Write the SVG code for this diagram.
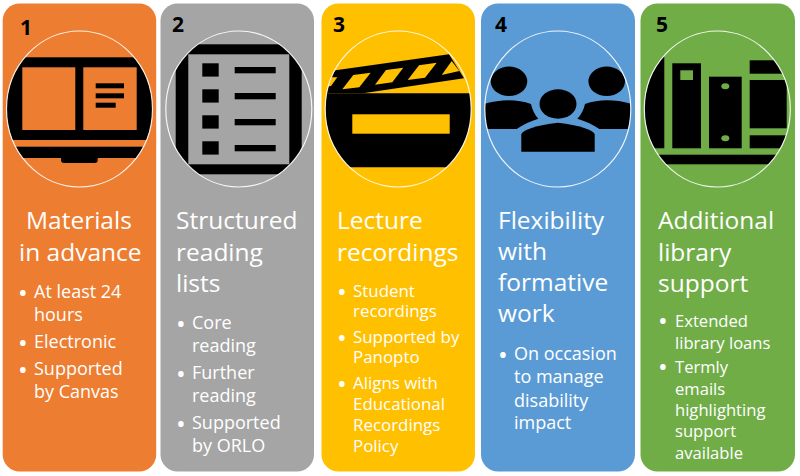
<svg xmlns="http://www.w3.org/2000/svg" width="800" height="476" viewBox="0 0 800 476">
<style>
text{font-family:"Open Sans","Noto Sans",sans-serif;fill:#fff}
.n{font-size:21px;font-weight:700;fill:#000}
.h{font-size:24.500px}
.b{font-size:18px}
.b3{font-size:16.900px}
.b5{font-size:16.600px}
.d{font-size:26px}
.ring{fill:none;stroke:#fff;stroke-width:1.200;opacity:.9}
</style>
<defs>
<clipPath id="c1"><ellipse cx="79.500" cy="109" rx="73" ry="78"/></clipPath>
<clipPath id="c2"><ellipse cx="238.800" cy="109" rx="73" ry="78"/></clipPath>
<clipPath id="c3"><ellipse cx="398.200" cy="109" rx="73" ry="78"/></clipPath>
<clipPath id="c4"><ellipse cx="557.800" cy="109" rx="73" ry="78"/></clipPath>
<clipPath id="c5"><ellipse cx="717.300" cy="109" rx="73" ry="78"/></clipPath>
</defs>
<rect width="800" height="476" fill="#fff"/>
<g id="card1">
<rect x="2.700" y="3.500" width="153.500" height="468" rx="17" fill="#ed7d31"/>
<g clip-path="url(#c1)">
<rect x="0" y="57.300" width="160" height="82.700"/>
<rect x="0" y="146.700" width="160" height="11.300"/>
<rect x="61" y="155" width="36.700" height="8" rx="3"/>
<rect x="22.300" y="67.300" width="53" height="62.700" fill="#ed7d31"/>
<rect x="83.300" y="67.300" width="53.400" height="62.700" fill="#ed7d31"/>
<rect x="95.700" y="83.300" width="28.300" height="5"/><rect x="95.700" y="93.300" width="28.300" height="5"/><rect x="95.700" y="102.700" width="20" height="5"/>
</g>
<ellipse class="ring" cx="79.500" cy="109" rx="73" ry="78"/>
<text class="n" x="20" y="35">1</text>
<text class="h" x="26" y="229">Materials</text><text class="h" x="19" y="261">in advance</text>
<text class="d" x="18" y="302">•</text><text class="d" x="18" y="352">•</text><text class="d" x="18" y="379">•</text>
<text class="b"><tspan x="34" y="298">At least 24</tspan><tspan x="34" y="321">hours</tspan><tspan x="34" y="348">Electronic</tspan><tspan x="34" y="375">Supported</tspan><tspan x="34" y="398">by Canvas</tspan></text>
</g>
<g id="card2">
<rect x="160.500" y="3.500" width="153.500" height="468" rx="17" fill="#a5a5a5"/>
<g clip-path="url(#c2)">
<rect x="175.700" y="44.300" width="126" height="130"/>
<rect x="188.300" y="54.300" width="101" height="110" fill="#a5a5a5"/>
<rect x="202.300" y="63.300" width="16.400" height="13.300"/><rect x="202.300" y="89.300" width="16.400" height="13.300"/><rect x="202.300" y="115.300" width="16.400" height="13.300"/><rect x="202.300" y="141.300" width="16.400" height="13.300"/>
<rect x="234.700" y="67" width="41" height="6.300"/><rect x="234.700" y="93" width="41" height="6.300"/><rect x="234.700" y="119" width="41" height="6.300"/><rect x="234.700" y="145" width="41" height="6.300"/>
</g>
<ellipse class="ring" cx="238.800" cy="109" rx="73" ry="78"/>
<text class="n" x="172" y="32">2</text>
<text class="h" x="176" y="229">Structured</text><text class="h" x="176" y="261">reading</text><text class="h" x="176" y="292">lists</text>
<text class="d" x="176" y="333">•</text><text class="d" x="176" y="383">•</text><text class="d" x="176" y="433">•</text>
<text class="b"><tspan x="192" y="329">Core</tspan><tspan x="192" y="352">reading</tspan><tspan x="192" y="379">Further</tspan><tspan x="192" y="402">reading</tspan><tspan x="192" y="429">Supported</tspan><tspan x="192" y="452">by ORLO</tspan></text>
</g>
<g id="card3">
<rect x="321.500" y="3.500" width="153.500" height="468" rx="17" fill="#ffc000"/>
<g clip-path="url(#c3)">
<path d="M320 93.300H475V167.300H320Z"/>
<path d="M320 72.500L449 54.300L464 78.300L363 93.300H320Z"/>
<path d="M331.700 77.300L337.300 77.300L331 86L325 87Z" fill="#ffc000"/>
<path d="M353.300 75L370.700 72.700L359.300 87.300L342.300 89.300Z" fill="#ffc000"/>
<path d="M386 70L403.300 67.700L392.300 82.300L375 84.700Z" fill="#ffc000"/>
<path d="M419 65.300L436.700 62.700L425 77.700L407.700 80Z" fill="#ffc000"/>
<path d="M451.700 61L459.300 71L441.700 75Z" fill="#ffc000"/>
<rect x="352.300" y="114.300" width="97.400" height="19.400" fill="#ffc000"/>
</g>
<ellipse class="ring" cx="398.200" cy="109" rx="73" ry="78"/>
<text class="n" x="333" y="32">3</text>
<text class="h" x="337" y="229">Lecture</text><text class="h" x="337" y="261">recordings</text>
<text class="d" x="337" y="301">•</text><text class="d" x="337" y="347">•</text><text class="d" x="337" y="393">•</text>
<text class="b3"><tspan x="353" y="297">Student</tspan><tspan x="353" y="317">recordings</tspan><tspan x="353" y="343">Supported by</tspan><tspan x="353" y="363">Panopto</tspan><tspan x="353" y="389">Aligns with</tspan><tspan x="353" y="410">Educational</tspan><tspan x="353" y="431">Recordings</tspan><tspan x="353" y="452">Policy</tspan></text>
</g>
<g id="card4">
<rect x="481" y="3.500" width="154" height="468" rx="17" fill="#5b9bd5"/>
<g clip-path="url(#c4)">
<ellipse cx="509" cy="81.300" rx="18.300" ry="14.700"/><ellipse cx="606.700" cy="81.300" rx="18.300" ry="14.700"/><ellipse cx="558" cy="104" rx="18.500" ry="14.700"/>
<path d="M521.300 151.700V134Q525 127 558 122.700Q590.700 127 594.700 134V151.700Z"/>
<path d="M484 104Q510 96.500 531 104Q533 113 538.300 118.700Q527 122 516.700 129H486Z"/>
<path d="M632 104Q606 96.500 585 104Q583 113 577.300 118.700Q589 122 599.300 129H630Z"/>
</g>
<ellipse class="ring" cx="557.800" cy="109" rx="73" ry="78"/>
<text class="n" x="495" y="32">4</text>
<text class="h" x="498" y="229">Flexibility</text><text class="h" x="498" y="260">with</text><text class="h" x="498" y="291">formative</text><text class="h" x="498" y="322">work</text>
<text class="d" x="498" y="364">•</text>
<text class="b"><tspan x="514" y="360">On occasion</tspan><tspan x="514" y="383">to manage</tspan><tspan x="514" y="407">disability</tspan><tspan x="514" y="429">impact</tspan></text>
</g>
<g id="card5">
<rect x="640.500" y="3.500" width="154.500" height="468" rx="17" fill="#70ad47"/>
<g clip-path="url(#c5)">
<rect x="640" y="57" width="24.300" height="91.300"/>
<rect x="672.300" y="63.300" width="28.700" height="85"/>
<rect x="680.300" y="70.300" width="12.700" height="9.700" fill="#70ad47"/>
<rect x="709" y="76.700" width="32.700" height="71.600"/>
<ellipse cx="725.300" cy="86.300" rx="4" ry="3" fill="#70ad47"/><ellipse cx="725.300" cy="138.300" rx="4" ry="3" fill="#70ad47"/>
<rect x="749.700" y="60.300" width="45" height="13.400"/><rect x="749.700" y="80" width="37" height="48.300"/><rect x="749.700" y="135.300" width="45" height="13"/>
<rect x="640" y="154.700" width="155" height="9.600"/>
</g>
<ellipse class="ring" cx="717.300" cy="109" rx="73" ry="78"/>
<text class="n" x="656" y="32">5</text>
<text class="h" x="658" y="229">Additional</text><text class="h" x="658" y="261">library</text><text class="h" x="658" y="292">support</text>
<text class="d" x="658" y="330">•</text><text class="d" x="658" y="376">•</text>
<text class="b5"><tspan x="675" y="327">Extended</tspan><tspan x="675" y="349">library loans</tspan><tspan x="675" y="373">Termly</tspan><tspan x="675" y="395">emails</tspan><tspan x="675" y="416">highlighting</tspan><tspan x="675" y="437">support</tspan><tspan x="675" y="459">available</tspan></text>
</g>
</svg>
